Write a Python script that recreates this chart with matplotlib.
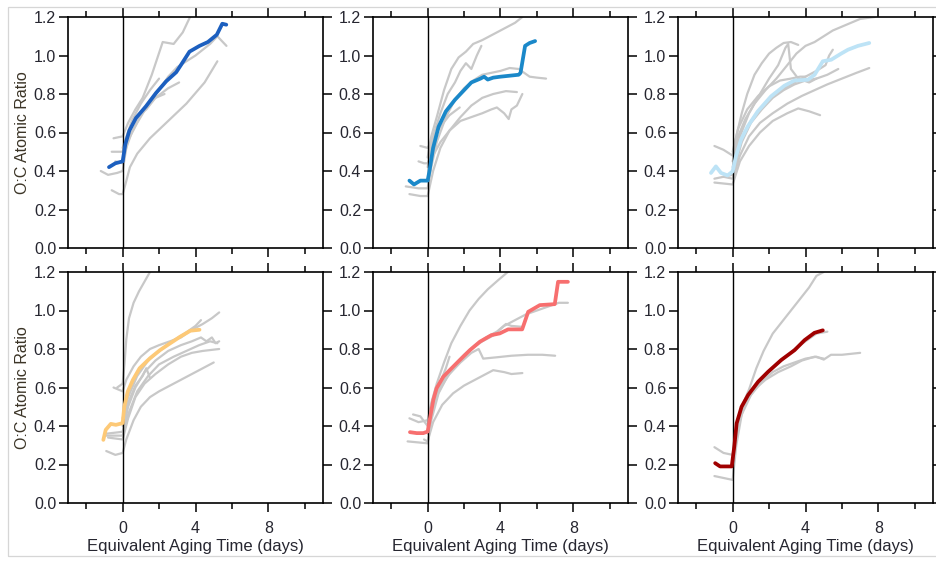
import numpy as np
import matplotlib
matplotlib.use("Agg")
import matplotlib.pyplot as plt
from matplotlib.patches import Rectangle

plt.rcParams['font.family'] = ['Liberation Sans', 'DejaVu Sans']

# ---- O:C ratio vs. equivalent aging time (days) ----
# Highlighted experiment of each panel: (time, O:C)
hl1 = [(-0.75, 0.42), (-0.4, 0.44), (0.0, 0.45), (0.15, 0.54), (0.37, 0.61), (0.73, 0.675),
       (1.28, 0.736), (1.83, 0.805), (2.39, 0.866), (2.94, 0.913), (3.21, 0.952), (3.67, 1.02),
       (4.22, 1.05), (4.68, 1.07), (5.17, 1.108), (5.47, 1.165), (5.69, 1.16)]
hl2 = [(-1.0, 0.35), (-0.75, 0.33), (-0.4, 0.35), (0.0, 0.35), (0.1, 0.40), (0.3, 0.52),
       (0.6, 0.63), (1.0, 0.71), (1.5, 0.77), (2.0, 0.82), (2.4, 0.86), (2.9, 0.88), (3.1, 0.89),
       (3.3, 0.875), (3.6, 0.885), (4.0, 0.89), (4.5, 0.895), (5.0, 0.90), (5.1, 0.91),
       (5.35, 1.05), (5.6, 1.065), (5.9, 1.075)]
hl3 = [(-1.19, 0.39), (-0.92, 0.424), (-0.64, 0.39), (-0.28, 0.377), (0.0, 0.398), (0.18, 0.476),
       (0.46, 0.563), (0.83, 0.632), (1.38, 0.71), (2.11, 0.788), (2.84, 0.843), (3.39, 0.87),
       (4.13, 0.874), (4.5, 0.90), (4.95, 0.97), (5.41, 0.978), (5.96, 1.01), (6.33, 1.03),
       (6.88, 1.05), (7.5, 1.065)]
hl4 = [(-1.06, 0.328), (-0.93, 0.38), (-0.65, 0.411), (-0.37, 0.406), (0.0, 0.415), (0.09, 0.50),
       (0.28, 0.579), (0.56, 0.639), (0.93, 0.70), (1.49, 0.751), (2.05, 0.794), (2.6, 0.829),
       (3.16, 0.864), (3.72, 0.895), (4.22, 0.90)]
hl5 = [(-0.97, 0.368), (-0.6, 0.363), (-0.24, 0.363), (0.0, 0.371), (0.13, 0.44), (0.31, 0.535),
       (0.49, 0.596), (0.86, 0.656), (1.22, 0.691), (1.77, 0.743), (2.32, 0.794), (2.87, 0.838),
       (3.5, 0.872), (3.96, 0.881), (4.42, 0.902), (5.19, 0.902), (5.52, 0.993), (6.16, 1.028),
       (6.98, 1.033), (7.16, 1.149), (7.7, 1.149)]
hl6 = [(-0.96, 0.207), (-0.69, 0.19), (-0.05, 0.19), (0.09, 0.293), (0.22, 0.414), (0.49, 0.50),
       (0.85, 0.561), (1.4, 0.63), (1.95, 0.682), (2.67, 0.743), (3.4, 0.794), (3.95, 0.846),
       (4.49, 0.884), (4.95, 0.897)]

# Other experiments shown for comparison in each panel
gray1 = [
    [(-0.6, 0.30), (-0.2, 0.28), (0, 0.28), (0.15, 0.33), (0.4, 0.42), (0.8, 0.49), (1.5, 0.57),
     (2.5, 0.66), (3.5, 0.75), (4.5, 0.86), (5.2, 0.97)],
    [(-1.2, 0.40), (-0.8, 0.38), (-0.3, 0.39), (0, 0.40), (0.2, 0.52), (0.5, 0.60), (1.0, 0.69),
     (1.5, 0.76), (2.0, 0.82), (2.5, 0.89), (3.0, 0.94), (4.0, 1.00), (4.8, 1.06), (5.2, 1.10),
     (5.7, 1.05)],
    [(-0.5, 0.57), (0, 0.58), (0.3, 0.65), (0.7, 0.72), (1.1, 0.78), (1.6, 0.90), (2.2, 1.07),
     (2.8, 1.06), (3.3, 1.12), (3.7, 1.20)],
    [(-0.6, 0.50), (0, 0.50), (0.3, 0.60), (0.8, 0.68), (1.3, 0.72), (1.8, 0.78), (2.5, 0.83),
     (3.1, 0.86)],
    [(-0.4, 0.45), (0, 0.44), (0.3, 0.56), (0.8, 0.65), (1.3, 0.73), (1.8, 0.78), (2.3, 0.80)],
    [(0, 0.52), (0.5, 0.66), (1.0, 0.75), (1.5, 0.82), (2.0, 0.88)],
]
gray2 = [
    [(0, 0.47), (0.2, 0.58), (0.5, 0.68), (0.9, 0.82), (1.3, 0.93), (1.7, 0.99), (2.1, 1.02),
     (2.5, 1.06), (3.0, 1.08), (3.6, 1.11), (4.2, 1.14), (4.8, 1.17), (5.2, 1.20)],
    [(0, 0.42), (0.3, 0.58), (0.7, 0.70), (1.1, 0.80), (1.5, 0.86), (1.8, 0.92), (2.1, 0.96),
     (2.4, 0.93), (2.7, 1.00), (2.95, 1.05)],
    [(-1.2, 0.32), (-0.5, 0.31), (0, 0.31), (0.2, 0.42), (0.5, 0.55), (1.0, 0.68), (1.5, 0.77),
     (2.0, 0.83), (2.5, 0.87), (3.0, 0.90), (3.5, 0.91), (4.0, 0.92), (4.5, 0.935), (5.0, 0.93),
     (5.3, 0.91), (5.6, 0.89), (6.0, 0.885), (6.5, 0.88)],
    [(-1.0, 0.28), (-0.4, 0.27), (0, 0.27), (0.3, 0.40), (0.7, 0.52), (1.2, 0.61), (1.8, 0.68),
     (2.4, 0.74), (3.0, 0.78), (3.6, 0.80), (4.3, 0.815), (4.9, 0.81)],
    [(-0.5, 0.45), (-0.2, 0.44), (0, 0.44), (0.3, 0.48), (0.7, 0.55), (1.2, 0.61), (1.8, 0.66),
     (2.4, 0.68), (3.0, 0.70), (3.5, 0.72), (3.8, 0.73), (4.2, 0.70), (4.45, 0.67), (4.6, 0.72),
     (4.9, 0.74), (5.0, 0.76), (5.2, 0.80)],
    [(-0.4, 0.53), (0, 0.52), (0.3, 0.57), (0.7, 0.63), (1.2, 0.69), (1.76, 0.73)],
]
gray3 = [
    [(0, 0.45), (0.3, 0.58), (0.7, 0.67), (1.2, 0.75), (1.8, 0.82), (2.4, 0.88), (3.0, 0.95),
     (3.5, 1.01), (4.0, 1.05), (4.5, 1.07), (5.0, 1.10), (5.5, 1.13), (6.0, 1.15), (6.5, 1.17),
     (7.0, 1.19), (7.8, 1.20)],
    [(-1.0, 0.53), (-0.5, 0.51), (0, 0.48), (0.2, 0.58), (0.5, 0.70), (0.8, 0.80), (1.2, 0.90),
     (1.6, 0.96), (2.0, 1.01), (2.4, 1.04), (2.8, 1.065), (3.2, 1.07), (3.6, 1.055)],
    [(0, 0.42), (0.4, 0.58), (0.9, 0.70), (1.5, 0.80), (2.0, 0.88), (2.5, 0.95), (2.9, 1.04),
     (3.05, 1.06), (3.2, 0.93), (3.6, 0.88), (4.2, 0.86), (4.6, 0.88)],
    [(0, 0.40), (0.4, 0.55), (1.0, 0.66), (1.6, 0.73), (2.2, 0.79), (2.8, 0.83), (3.4, 0.86),
     (4.0, 0.89), (4.6, 0.92), (5.1, 0.95), (5.3, 1.00), (5.5, 1.03)],
    [(-1.0, 0.36), (0, 0.38), (0.5, 0.55), (1.0, 0.65), (1.6, 0.72), (2.2, 0.78), (2.8, 0.82),
     (3.4, 0.85), (4.0, 0.87), (4.6, 0.88), (5.2, 0.90), (5.8, 0.93)],
    [(-0.5, 0.37), (0, 0.36), (0.4, 0.48), (0.9, 0.58), (1.5, 0.65), (2.2, 0.70), (3.0, 0.75),
     (3.8, 0.79), (4.5, 0.82), (5.2, 0.85), (6.0, 0.88), (6.8, 0.91), (7.5, 0.935)],
    [(-1.0, 0.34), (0, 0.33), (0.4, 0.45), (0.9, 0.53), (1.5, 0.60), (2.2, 0.66), (3.0, 0.70),
     (3.6, 0.725), (4.2, 0.71), (4.8, 0.69)],
    [(0, 0.50), (0.3, 0.62), (0.8, 0.72), (1.4, 0.79), (2.0, 0.84), (2.6, 0.87), (3.2, 0.88),
     (3.7, 0.89), (4.0, 0.89)],
]
gray4 = [
    [(-0.3, 0.60), (0, 0.62), (0.1, 0.72), (0.2, 0.85), (0.35, 0.96), (0.6, 1.04), (0.9, 1.10),
     (1.2, 1.15), (1.5, 1.20)],
    [(-0.5, 0.60), (0, 0.58), (0.2, 0.64), (0.6, 0.71), (1.0, 0.76), (1.5, 0.80), (2.0, 0.82),
     (2.6, 0.84), (3.2, 0.86), (3.8, 0.90), (4.4, 0.93), (4.9, 0.96), (5.3, 0.99)],
    [(-0.9, 0.36), (0, 0.37), (0.3, 0.50), (0.7, 0.60), (1.2, 0.68), (1.8, 0.74), (2.5, 0.79),
     (3.2, 0.82), (3.8, 0.84), (4.3, 0.86), (4.6, 0.84), (4.9, 0.86), (5.1, 0.83), (5.3, 0.84)],
    [(-0.8, 0.34), (0, 0.33), (0.3, 0.44), (0.7, 0.55), (1.2, 0.62), (1.8, 0.67), (2.5, 0.72),
     (3.2, 0.76), (3.8, 0.78), (4.4, 0.79), (5.3, 0.80)],
    [(-0.9, 0.27), (-0.4, 0.25), (0, 0.26), (0.2, 0.33), (0.6, 0.43), (1.0, 0.50), (1.5, 0.55),
     (2.0, 0.58), (2.6, 0.61), (3.2, 0.64), (3.8, 0.67), (4.4, 0.70), (5.0, 0.73)],
    [(0, 0.44), (0.3, 0.55), (0.8, 0.66), (1.4, 0.74), (2.0, 0.79), (2.7, 0.84), (3.4, 0.88),
     (4.0, 0.92), (4.3, 0.95)],
    [(0, 0.40), (0.3, 0.52), (0.7, 0.61), (1.1, 0.66), (1.3, 0.70), (1.5, 0.65)],
    [(-1.0, 0.35), (0, 0.35), (0.3, 0.46), (0.8, 0.58), (1.4, 0.66), (2.0, 0.72), (2.8, 0.76),
     (3.5, 0.79), (4.2, 0.82), (4.8, 0.84), (5.2, 0.83)],
]
gray5 = [
    [(0, 0.42), (0.2, 0.52), (0.5, 0.62), (0.9, 0.73), (1.3, 0.83), (1.8, 0.92), (2.3, 1.00),
     (2.8, 1.06), (3.3, 1.11), (3.9, 1.16), (4.4, 1.20)],
    [(-1.1, 0.32), (0, 0.31), (0.2, 0.43), (0.6, 0.57), (1.1, 0.66), (1.7, 0.73), (2.4, 0.80),
     (3.0, 0.84), (3.6, 0.87), (4.2, 0.92), (4.8, 0.95), (5.4, 0.98), (6.0, 1.00), (6.6, 1.02),
     (7.2, 1.04), (7.7, 1.04)],
    [(0, 0.36), (0.3, 0.50), (0.7, 0.60), (1.2, 0.67), (1.8, 0.73), (2.4, 0.78), (2.8, 0.80),
     (3.05, 0.75), (3.8, 0.757), (4.6, 0.765), (5.5, 0.77), (6.3, 0.77), (7.0, 0.765)],
    [(-0.2, 0.33), (0, 0.32), (0.3, 0.42), (0.8, 0.51), (1.4, 0.57), (2.0, 0.61), (2.6, 0.64),
     (3.2, 0.67), (3.6, 0.69), (4.2, 0.68), (4.6, 0.67), (5.2, 0.675)],
    [(-1.0, 0.44), (-0.5, 0.42), (0, 0.43), (0.3, 0.54), (0.8, 0.63), (1.4, 0.71), (2.0, 0.77),
     (2.6, 0.82), (3.2, 0.86), (3.8, 0.89), (4.3, 0.93), (4.6, 0.92), (5.2, 0.915)],
    [(-0.8, 0.46), (-0.4, 0.45), (0, 0.40), (0.3, 0.53), (0.7, 0.63), (1.0, 0.70), (1.2, 0.76)],
]
gray6 = [
    [(-1.0, 0.29), (-0.5, 0.26), (0, 0.25), (0.2, 0.38), (0.5, 0.50), (0.9, 0.59), (1.3, 0.70),
     (1.7, 0.79), (2.2, 0.88), (2.7, 0.94), (3.2, 1.00), (3.7, 1.06), (4.2, 1.12), (4.6, 1.18),
     (5.0, 1.20)],
    [(-1.0, 0.14), (-0.5, 0.13), (0, 0.12), (0.2, 0.30), (0.5, 0.46), (1.0, 0.56), (1.6, 0.63),
     (2.2, 0.68), (2.8, 0.71), (3.4, 0.73), (4.0, 0.75), (4.6, 0.76), (5.0, 0.745), (5.4, 0.77),
     (6.0, 0.77), (7.0, 0.78)],
    [(0, 0.20), (0.2, 0.35), (0.5, 0.48), (1.0, 0.57), (1.6, 0.64), (2.2, 0.70), (2.8, 0.75),
     (3.4, 0.80), (4.0, 0.84), (4.6, 0.88), (5.2, 0.89)],
    [(0, 0.22), (0.3, 0.40), (0.7, 0.52), (1.2, 0.59), (1.8, 0.64), (2.5, 0.68), (3.2, 0.71),
     (3.8, 0.74), (4.5, 0.76), (5.0, 0.75)],
]

highlights = [hl1, hl2, hl3, hl4, hl5, hl6]
gray_sets = [gray1, gray2, gray3, gray4, gray5, gray6]
colors = ['#1c5fbf', '#1a88c9', '#bde3f6', '#fdc977', '#f76f6f', '#a00000']

x_major = [0, 4, 8]
x_minor = [-2, 2, 6, 10]
y_ticks = [0.0, 0.2, 0.4, 0.6, 0.8, 1.0, 1.2]

W, H = 936, 562
fig = plt.figure(figsize=(W / 100, H / 100), dpi=100)

# light frame around the whole figure
fig.patches.append(Rectangle((8 / W, 1 - 556 / H), (W + 10 - 8) / W, (556 - 7) / H,
                             transform=fig.transFigure, fill=False,
                             edgecolor='#d6d6d6', lw=0.9))

col_left = [68, 373, 678]
row_top = [17, 272]
pw, ph = 255, 231
tick_col = '#262630'
label_col = '#3b3426'

for i in range(6):
    r, c = divmod(i, 3)
    ax = fig.add_axes([col_left[c] / W, 1 - (row_top[r] + ph) / H, pw / W, ph / H])
    ax.set_xlim(-3, 11)
    ax.set_ylim(0, 1.2)
    ax.set_xticks(x_major)
    ax.set_xticks(x_minor, minor=True)
    ax.set_yticks(y_ticks)
    ax.set_yticklabels([f"{v:.1f}" for v in y_ticks])
    ax.tick_params(which='both', direction='out', top=True, right=True,
                   labeltop=False, labelright=False, width=1.1, color='black',
                   labelsize=11.5, labelcolor=tick_col)
    ax.tick_params(which='major', length=6.5)
    ax.tick_params(which='minor', length=4.3)
    ax.tick_params(axis='x', pad=6.5)
    ax.tick_params(axis='y', pad=2)
    for s in ax.spines.values():
        s.set_linewidth(1.2)
    if r == 0:
        ax.tick_params(labelbottom=False)
    else:
        ax.set_xlabel('Equivalent Aging Time (days)', fontsize=12, color=tick_col,
                      va='center')
        ax.xaxis.set_label_coords(0.5, -43 / ph)
    if c == 0:
        ax.set_ylabel('O:C Atomic Ratio', fontsize=11.5, color=label_col, labelpad=3)

    for tr in gray_sets[i]:
        t, oc = zip(*tr)
        ax.plot(t, oc, color='#c8c8c8', lw=1.6, solid_capstyle='round',
                solid_joinstyle='round', zorder=2)
    ax.axvline(0, color='black', lw=1.0, zorder=3)
    t, oc = zip(*highlights[i])
    ax.plot(t, oc, color=colors[i], lw=2.7, solid_capstyle='round',
            solid_joinstyle='round', zorder=4)

fig.savefig('out.png', dpi=100)
